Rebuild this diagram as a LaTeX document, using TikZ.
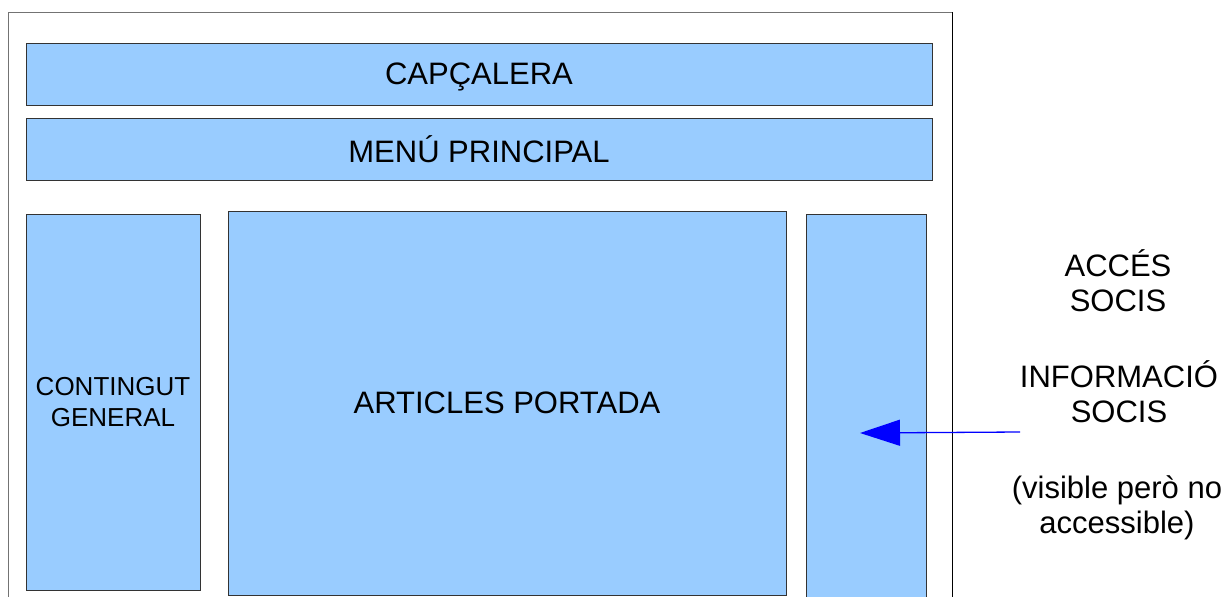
\documentclass[tikz,border=0pt]{standalone}
\usepackage{fontspec}
\setmainfont{Liberation Sans}
\usetikzlibrary{positioning,arrows.meta}
\definecolor{blockblue}{HTML}{99CCFF}
\tikzset{%
  block/.style={rectangle,inner sep=0pt,draw=black!80,fill=blockblue,
    line width=1pt,align=center,font=\fontsize{31}{35.5}\selectfont},
  sidebox/.style={block,font=\fontsize{26}{31}\selectfont},
  note/.style={align=center,inner sep=0pt,font=\fontsize{31}{35}\selectfont},
  pointer/.style={draw=blue,line width=1.3pt,
    -{Triangle[length=40pt,width=26pt]}}
}

\begin{document}
\begin{tikzpicture}[x=1pt,y=-1pt,node distance=75pt]
      \useasboundingbox (0,0) rectangle (1227,597);
      \draw [black!55,line width=1pt] (8,640) |- (952,12);
      \draw [black,line width=1pt] (952,12) -- (952,640);

      \node [block,text depth=0pt,minimum width=906pt,minimum height=62pt] (cap) at (479,74) {CAPÇALERA};
      \node [block,minimum width=906pt,minimum height=62pt] (menu) [below of=cap] {MENÚ PRINCIPAL};

      \node [sidebox,minimum width=174pt,minimum height=376pt] (cont) at (113,402) {CONTINGUT\\GENERAL};
      \node [block,minimum width=558pt,minimum height=384pt] (art) at (507,403) {ARTICLES PORTADA};
      \node [block,minimum width=120pt,minimum height=426pt] (soc) at (866,427) {};

      \node [note] (acces) at (1118,281) {ACCÉS\\SOCIS};
      \node [note] (info)  at (1119,392) {INFORMACIÓ\\SOCIS};
      \node [note] (vis)   at (1117,508) {(visible però no\\accessible)};

      \coordinate (tail) at (1020,432);
      \coordinate (tip)  at (860,433);
      \draw [pointer] (tail) -- (tip);
    \end{tikzpicture}
\end{document}
